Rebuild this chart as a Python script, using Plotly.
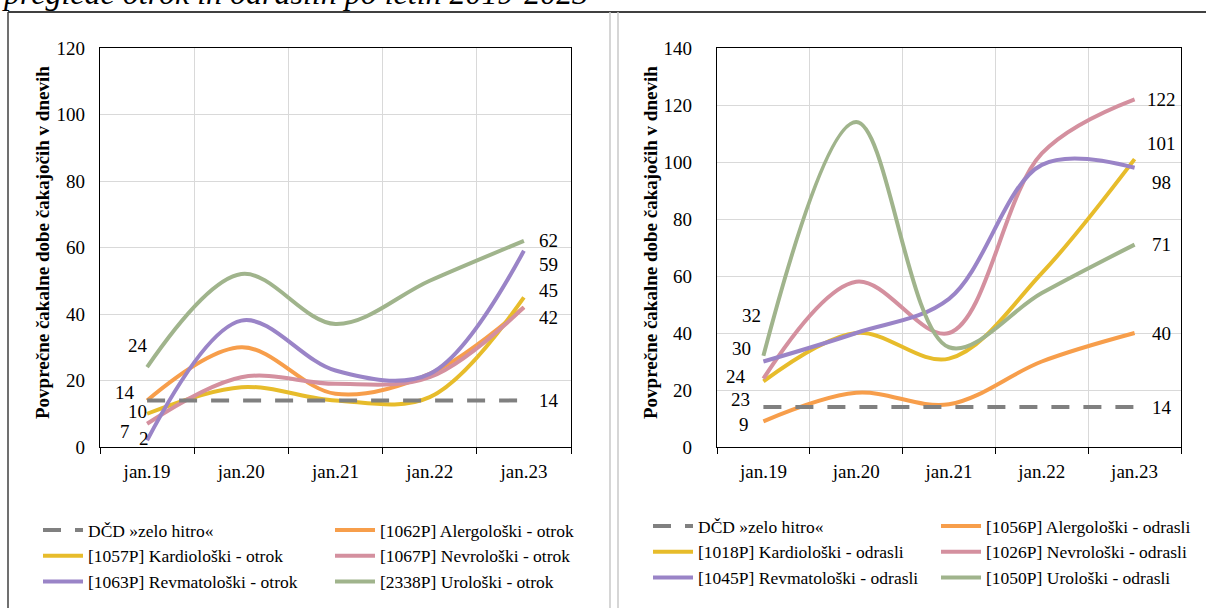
import plotly.graph_objects as go

W, H = 1206, 608

categories = ["jan.19", "jan.20", "jan.21", "jan.22", "jan.23"]

# Left chart (otrok)
left_dcd = [14, 14, 14, 14, 14]
left_alerg = [14, 30, 16, 22, 42]
left_kardio = [10, 18, 14, 15, 45]
left_nevro = [7, 21, 19, 21, 42]
left_revma = [2, 38, 23, 22, 59]
left_uro = [24, 52, 37, 50, 62]

# Right chart (odrasli)
right_dcd = [14, 14, 14, 14, 14]
right_alerg = [9, 19, 15, 30, 40]
right_kardio = [23, 40, 31, 61, 101]
right_nevro = [24, 58, 40, 103, 122]
right_revma = [30, 40, 52, 99, 98]
right_uro = [32, 114, 35, 54, 71]

left_names = ["DČD »zelo hitro«", "[1062P] Alergološki - otrok", "[1057P] Kardiološki - otrok",
              "[1067P] Nevrološki - otrok", "[1063P] Revmatološki - otrok", "[2338P] Urološki - otrok"]
right_names = ["DČD »zelo hitro«", "[1056P] Alergološki - odrasli", "[1018P] Kardiološki - odrasli",
               "[1026P] Nevrološki - odrasli", "[1045P] Revmatološki - odrasli", "[1050P] Urološki - odrasli"]

y_title = "Povprečne čakalne dobe čakajočih v dnevih"
top_text = "preglede otrok in odraslih po letih 2019-2023"

GRAY = "#808080"
ORANGE = "#F79E4B"
YELLOW = "#E7BC2B"
PINK = "#D4909F"
PURPLE = "#9A84C7"
GREEN = "#A0B48C"
FONT = "Liberation Serif"

def px(x):
    return x / W

def py(y):
    return 1 - y / H

fig = go.Figure()
xs = list(range(len(categories)))

def add_series(vals, name, color, xa, ya, legend, rank, dash=None, shape="spline"):
    fig.add_trace(go.Scatter(
        x=xs, y=vals, name=name, mode="lines",
        line=dict(color=color, width=4, shape=shape, smoothing=1.0,
                  dash=dash if dash else "solid"),
        xaxis=xa, yaxis=ya, legend=legend, legendgroup=name + xa, legendrank=rank,
        hoverinfo="skip"))

# left (col1: DCD, Kardio, Revma -> legend ; col2: Alerg, Nevro, Uro -> legend2)
add_series(left_alerg, left_names[1], ORANGE, "x", "y", "legend2", 10)
add_series(left_kardio, left_names[2], YELLOW, "x", "y", "legend", 10)
add_series(left_nevro, left_names[3], PINK, "x", "y", "legend2", 10)
add_series(left_revma, left_names[4], PURPLE, "x", "y", "legend", 10)
add_series(left_uro, left_names[5], GREEN, "x", "y", "legend2", 10)
add_series(left_dcd, left_names[0], GRAY, "x", "y", "legend", 1, dash="18px,14px", shape="linear")

add_series(right_alerg, right_names[1], ORANGE, "x2", "y2", "legend4", 10)
add_series(right_kardio, right_names[2], YELLOW, "x2", "y2", "legend3", 10)
add_series(right_nevro, right_names[3], PINK, "x2", "y2", "legend4", 10)
add_series(right_revma, right_names[4], PURPLE, "x2", "y2", "legend3", 10)
add_series(right_uro, right_names[5], GREEN, "x2", "y2", "legend4", 10)
add_series(right_dcd, right_names[0], GRAY, "x2", "y2", "legend3", 1, dash="18px,14px", shape="linear")

tick_font = dict(family=FONT, size=19, color="black")
bounds = [i - 0.5 for i in range(len(categories) + 1)]

def xaxis_def(domain, anchor):
    return dict(domain=domain, anchor=anchor, range=[-0.5, len(categories) - 0.5],
                tickvals=xs, ticktext=categories, ticks="", showgrid=False, automargin=False,
                zeroline=False, showline=True, linecolor="black", linewidth=1.3, mirror=True,
                tickfont=tick_font, ticklabelstandoff=7,
                minor=dict(tickvals=bounds, ticks="outside", ticklen=6, tickcolor="black",
                           tickwidth=1.3, showgrid=True, gridcolor="#d9d9d9", gridwidth=1.3))

def yaxis_def(domain, anchor, rng, standoff):
    return dict(domain=domain, anchor=anchor, range=rng, dtick=20, tick0=0, ticks="", showgrid=True,
                gridcolor="#d9d9d9", gridwidth=1.3, zeroline=False, showline=True, automargin=False,
                linecolor="black", linewidth=1.3, mirror=True, tickfont=tick_font,
                ticklabelstandoff=standoff)

ydom = [py(447), py(48)]

# data labels
def add_labels(vals_list, idx, dxs, dys, xref, yref):
    for vals, dx, dy in zip(vals_list, dxs, dys):
        fig.add_annotation(x=idx, y=vals[idx], xref=xref, yref=yref, text=str(vals[idx]),
                           showarrow=False, xshift=dx, yshift=-dy, xanchor="center",
                           font=dict(family=FONT, size=19, color="black"))

# left start labels: 24,14,10,7,2
add_labels([left_uro, left_alerg, left_kardio, left_nevro, left_revma], 0,
           [-9, -22, -10, -22, -3], [-22, -8, -2, 8, -2], "x", "y")
# left end labels
add_labels([left_uro, left_revma, left_kardio, left_nevro, left_dcd], 4,
           [25, 25, 25, 25, 25], [0, 14, -7, 10, 0], "x", "y")
# right start labels: 32,30,24,23,9
add_labels([right_uro, right_revma, right_nevro, right_kardio, right_alerg], 0,
           [-12, -22, -27, -23, -19], [-40, -13, -2, 18, 3], "x2", "y2")
# right end labels
add_labels([right_nevro, right_kardio, right_revma, right_uro, right_alerg, right_dcd], 4,
           [27, 27, 27, 27, 27, 27], [0, -16, 15, 0, 0, 0], "x2", "y2")

# axis titles
for xc in (42, 650):
    fig.add_annotation(x=px(xc), y=py(243), xref="paper", yref="paper", text=y_title,
                       textangle=-90, showarrow=False, xanchor="center", yanchor="middle",
                       font=dict(family=FONT, size=19, color="black", weight="bold"))

# cut-off heading text at the very top
fig.add_annotation(x=px(0), y=py(13), xref="paper", yref="paper", text=top_text,
                   showarrow=False, xanchor="left", yanchor="bottom",
                   font=dict(family=FONT, size=32, color="black", style="italic"))

# panel frames
fig.add_shape(type="line", xref="paper", yref="paper", x0=px(8), x1=1, y0=py(12), y1=py(12),
              line=dict(color="#404040", width=2))
fig.add_shape(type="line", xref="paper", yref="paper", x0=px(8), x1=px(8), y0=py(12), y1=0,
              line=dict(color="#404040", width=1.5))
for xv in (610, 618):
    fig.add_shape(type="line", xref="paper", yref="paper", x0=px(xv), x1=px(xv), y0=py(12), y1=0,
                  line=dict(color="#c8c8c8", width=1.5))

leg_common = dict(xanchor="left", yanchor="top", orientation="v", bgcolor="rgba(0,0,0,0)",
                  font=dict(family=FONT, size=17.5, color="black"), tracegroupgap=0,
                  traceorder="grouped", itemwidth=40)

fig.update_layout(
    template="none",
    width=W, height=H, margin=dict(l=0, r=0, t=0, b=0, pad=0, autoexpand=False),
    paper_bgcolor="white", plot_bgcolor="white", showlegend=True,
    xaxis=xaxis_def([px(100), px(571)], "y"),
    yaxis=yaxis_def(ydom, "x", [0, 120], 10),
    xaxis2=xaxis_def([px(717), px(1181)], "y2"),
    yaxis2=yaxis_def(ydom, "x2", [0, 140], 20),
    legend=dict(x=px(38), y=py(512), **leg_common),
    legend2=dict(x=px(330), y=py(512), **leg_common),
    legend3=dict(x=px(648), y=py(508), **leg_common),
    legend4=dict(x=px(936), y=py(508), **leg_common),
)

fig.write_html("out.html", config={"displayModeBar": False},
               post_script="document.body.style.margin='0';document.body.style.padding='0';")
